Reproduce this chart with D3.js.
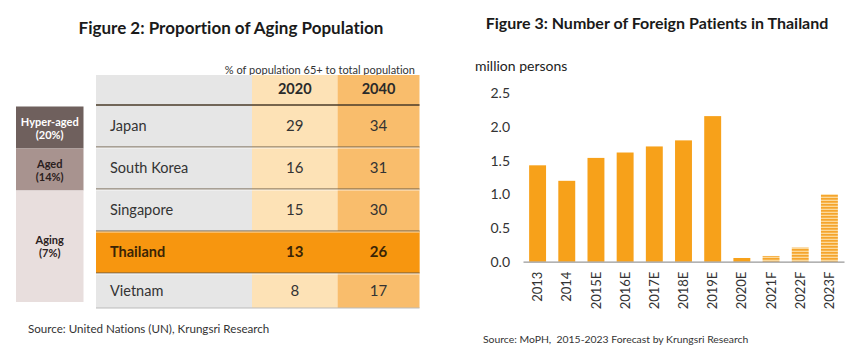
<!DOCTYPE html>
<html>
<head>
<meta charset="utf-8">
<script src="https://cdn.jsdelivr.net/npm/d3@7"></script>
<style>
  body { margin: 0; background: #fff; }
  text { font-family: Lato, 'Open Sans', sans-serif; font-variant-ligatures: none; }
</style>
</head>
<body>
<script>
const width = 846
const height = 354

// Figure 2: tabla
const countries = ['Japan', 'South Korea', 'Singapore', 'Thailand', 'Vietnam']
const years = ['2020', '2040']
const v2020 = [29, 16, 15, 13, 8]
const v2040 = [34, 31, 30, 26, 17]
const stageNames = ['Hyper-aged', 'Aged', 'Aging']
const stagePct = ['(20%)', '(14%)', '(7%)']
const stageFirst = ['Japan', 'South Korea', 'Singapore']
const stageLast = ['Japan', 'South Korea', 'Vietnam']

// Figure 3: barras
const patYears = ['2013', '2014', '2015E', '2016E', '2017E', '2018E', '2019E', '2020E', '2021F', '2022F', '2023F']
const patients = [1.43, 1.20, 1.54, 1.62, 1.71, 1.80, 2.16, 0.055, 0.085, 0.21, 1.0]
const yTicks = [0, 0.5, 1.0, 1.5, 2.0, 2.5]

const svg = d3.select('body').append('svg').attr('width', width).attr('height', height)

/* ---------- Figure 2 ---------- */
svg.append('text')
  .attr('x', 231).attr('y', 34)
  .attr('text-anchor', 'middle')
  .attr('font-size', 17).attr('font-weight', 'bold').attr('fill', '#1a1a1a')
  .text('Figure 2: Proportion of Aging Population')

svg.append('text')
  .attr('x', 415).attr('y', 74)
  .attr('text-anchor', 'end')
  .attr('font-size', 11).attr('fill', '#333')
  .text('% of population 65+ to total population')

const tableBottom = 308
const row = d3.scaleBand().domain(countries).range([105, 315])
const col = d3.scaleOrdinal().domain(['name', '2020', '2040']).range([96, 252, 337.5])
const colW = { name: 156, '2020': 85.5, '2040': 82 }
const colFill = { name: '#e6e6e6', '2020': '#fde2b6', '2040': '#f9bd6c' }

// columnas de fondo
const table = svg.append('g')
table.selectAll('rect.col')
  .data(['name', '2020', '2040'])
  .join('rect')
  .attr('class', 'col')
  .attr('x', d => col(d)).attr('y', 75)
  .attr('width', d => colW[d]).attr('height', tableBottom - 75)
  .attr('fill', d => colFill[d])

// fila Tailandia resaltada
table.append('rect')
  .attr('x', 96).attr('y', row('Thailand'))
  .attr('width', 323.5).attr('height', row.bandwidth())
  .attr('fill', '#f7960f')

// lineas separadoras
table.append('line')
  .attr('x1', 96).attr('x2', 419.5).attr('y1', 105).attr('y2', 105)
  .attr('stroke', '#4a3b28').attr('stroke-width', 1.6)
table.selectAll('line.sep')
  .data(countries.slice(1))
  .join('line')
  .attr('class', 'sep')
  .attr('x1', 96).attr('x2', 419.5)
  .attr('y1', d => row(d)).attr('y2', d => row(d))
  .attr('stroke', '#6b5a44').attr('stroke-width', 1)
table.selectAll('line.sep2')
  .data(countries.slice(1))
  .join('line')
  .attr('class', 'sep2')
  .attr('x1', 96).attr('x2', 419.5)
  .attr('y1', d => row(d) + 1).attr('y2', d => row(d) + 1)
  .attr('stroke', '#ffffff').attr('stroke-opacity', 0.7).attr('stroke-width', 1)
table.append('line')
  .attr('x1', 96).attr('x2', 419.5).attr('y1', tableBottom).attr('y2', tableBottom)
  .attr('stroke', '#bbb').attr('stroke-width', 1)

// encabezados
table.selectAll('text.year')
  .data(years)
  .join('text')
  .attr('class', 'year')
  .attr('x', d => col(d) + colW[d] / 2).attr('y', 94)
  .attr('text-anchor', 'middle')
  .attr('font-size', 14.5).attr('font-weight', 'bold').attr('fill', '#2a2a2a')
  .text(d => d)

const rowH = d => Math.min(row.bandwidth(), tableBottom - row(d))

table.selectAll('text.country')
  .data(countries)
  .join('text')
  .attr('class', 'country')
  .attr('x', 110).attr('y', d => row(d) + rowH(d) / 2 + 5)
  .attr('font-size', 14.5)
  .attr('font-weight', d => d === 'Thailand' ? 'bold' : 'normal')
  .attr('fill', d => d === 'Thailand' ? '#3a2405' : '#333')
  .text(d => d)

const vals = countries.map((c, i) => ({ c, a: v2020[i], b: v2040[i] }))
table.selectAll('text.v20')
  .data(vals)
  .join('text')
  .attr('class', 'v20')
  .attr('x', col('2020') + colW['2020'] / 2).attr('y', d => row(d.c) + rowH(d.c) / 2 + 5)
  .attr('text-anchor', 'middle')
  .attr('font-size', 15)
  .attr('font-weight', d => d.c === 'Thailand' ? 'bold' : 'normal')
  .attr('fill', d => d.c === 'Thailand' ? '#3a2405' : '#333')
  .text(d => d.a)
table.selectAll('text.v40')
  .data(vals)
  .join('text')
  .attr('class', 'v40')
  .attr('x', col('2040') + colW['2040'] / 2).attr('y', d => row(d.c) + rowH(d.c) / 2 + 5)
  .attr('text-anchor', 'middle')
  .attr('font-size', 15)
  .attr('font-weight', d => d.c === 'Thailand' ? 'bold' : 'normal')
  .attr('fill', d => d.c === 'Thailand' ? '#3a2405' : '#333')
  .text(d => d.b)

// cajas de etapa
const stageFill = ['#6f605d', '#a8938f', '#e8dedd']
const stageText = ['#ffffff', '#2a2020', '#2a2020']
const stages = stageNames.map((n, i) => {
  const y0 = row(stageFirst[i]) + 1.5
  const y1 = i === 2 ? tableBottom - 6 : row(stageLast[i]) + row.bandwidth() + 1.5
  return { n, p: stagePct[i], y0, y1, i }
})
const sg = svg.selectAll('g.stage')
  .data(stages)
  .join('g')
  .attr('class', 'stage')
sg.append('rect')
  .attr('x', 16).attr('y', d => d.y0)
  .attr('width', 67.5).attr('height', d => d.y1 - d.y0)
  .attr('fill', d => stageFill[d.i])
sg.append('text')
  .attr('x', 49.75).attr('y', d => (d.y0 + d.y1) / 2 - 2)
  .attr('text-anchor', 'middle')
  .attr('font-size', 11).attr('font-weight', 'bold')
  .attr('fill', d => stageText[d.i])
  .text(d => d.n)
sg.append('text')
  .attr('x', 49.75).attr('y', d => (d.y0 + d.y1) / 2 + 11)
  .attr('text-anchor', 'middle')
  .attr('font-size', 11).attr('font-weight', 'bold')
  .attr('fill', d => stageText[d.i])
  .text(d => d.p)

svg.append('text')
  .attr('x', 28).attr('y', 333)
  .attr('font-size', 11.6).attr('fill', '#333')
  .text('Source: United Nations (UN), Krungsri Research')

/* ---------- Figure 3 ---------- */
svg.append('text')
  .attr('x', 657).attr('y', 29)
  .attr('text-anchor', 'middle')
  .attr('font-size', 16).attr('font-weight', 'bold').attr('fill', '#1a1a1a')
  .text('Figure 3: Number of Foreign Patients in Thailand')

svg.append('text')
  .attr('x', 475).attr('y', 71)
  .attr('font-size', 14).attr('fill', '#222')
  .text('million persons')

// patron rayado para pronosticos
const defs = svg.append('defs')
const pat = defs.append('pattern')
  .attr('id', 'stripes')
  .attr('patternUnits', 'userSpaceOnUse')
  .attr('width', 6).attr('height', 3)
pat.append('rect').attr('width', 6).attr('height', 3).attr('fill', '#fcd99a')
pat.append('rect').attr('width', 6).attr('height', 1.7).attr('fill', '#f5a52c')

const x = d3.scaleBand()
  .domain(patYears)
  .range([523, 844])
  .paddingInner(0.42)
  .paddingOuter(0.21)
const y = d3.scaleLinear().domain([0, 2.5]).range([261.7, 93.2])

svg.append('g')
  .selectAll('rect')
  .data(patYears.map((k, i) => ({ k, v: patients[i] })))
  .join('rect')
  .attr('x', d => x(d.k))
  .attr('y', d => y(d.v))
  .attr('width', x.bandwidth())
  .attr('height', d => y(0) - y(d.v))
  .attr('fill', d => d.k.endsWith('F') ? 'url(#stripes)' : '#f7a11a')

const yAxis = svg.append('g')
  .attr('transform', 'translate(523,0)')
  .call(d3.axisLeft(y).tickValues(yTicks).tickFormat(d3.format('.1f')).tickSize(0).tickPadding(13))
yAxis.select('.domain').remove()
yAxis.selectAll('text')
  .attr('font-family', 'Lato, sans-serif').attr('font-size', 14).attr('fill', '#333')

const xAxis = svg.append('g')
  .attr('transform', `translate(0,${y(0)})`)
  .call(d3.axisBottom(x).tickSize(0).tickPadding(0))
xAxis.select('.domain').attr('stroke', '#999').attr('stroke-width', 1.2)
xAxis.selectAll('text')
  .attr('font-family', 'Lato, sans-serif').attr('font-size', 13).attr('fill', '#333')
  .attr('text-anchor', 'end')
  .attr('transform', 'rotate(-90)')
  .attr('x', -10).attr('y', 0).attr('dy', '0.35em')

svg.append('text')
  .attr('x', 483).attr('y', 343)
  .attr('font-size', 10.4).attr('fill', '#333')
  .attr('xml:space', 'preserve')
  .style('white-space', 'pre')
  .text('Source: MoPH,  2015-2023 Forecast by Krungsri Research')
</script>
</body>
</html>
